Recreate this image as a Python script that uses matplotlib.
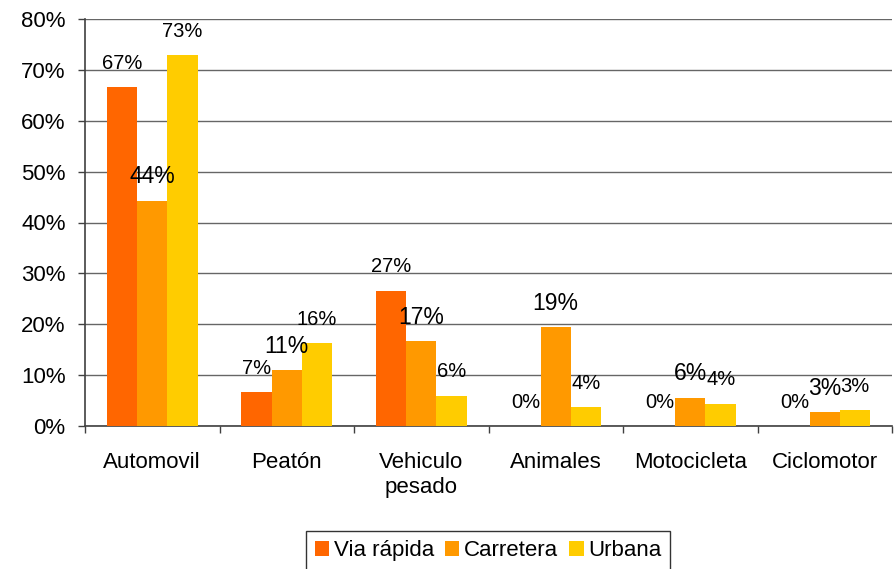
import numpy as np
import matplotlib
matplotlib.use("Agg")
import matplotlib.pyplot as plt
from matplotlib.ticker import FixedLocator, PercentFormatter

plt.rcParams["font.family"] = ["Liberation Sans", "DejaVu Sans"]

CATEGORIES = ["Automovil", "Peatón", "Vehiculo\npesado", "Animales", "Motocicleta", "Ciclomotor"]
SERIES = ["Via rápida", "Carretera", "Urbana"]
VIA_RAPIDA = [66.6, 6.6, 26.6, 0.0, 0.0, 0.0]
CARRETERA = [44.3, 11.0, 16.7, 19.4, 5.6, 2.7]
URBANA = [72.9, 16.3, 5.9, 3.7, 4.4, 3.1]
COLORS = ["#FF6600", "#FF9900", "#FFCC00"]
LABEL_SIZES = [14.5, 16.5, 14.5]   # Carretera labels are drawn larger

fig = plt.figure(figsize=(8.94, 5.69), dpi=100)
ax = fig.add_axes([85/894, 1 - 426/569, (892-85)/894, (426-19)/569])

x = np.arange(len(CATEGORIES))
w = 0.226
for i, (vals, col) in enumerate(zip([VIA_RAPIDA, CARRETERA, URBANA], COLORS)):
    pos = x + (i - 1) * w
    ax.bar(pos, vals, width=w, color=col, label=SERIES[i], zorder=3)
    for px, v in zip(pos, vals):
        ax.annotate(f"{v:.0f}%", (px, v), xytext=(0, 24), textcoords="offset pixels",
                    ha="center", va="center", fontsize=LABEL_SIZES[i], zorder=4)

ax.set_xlim(-0.5, len(CATEGORIES) - 0.5)
ax.set_ylim(0, 80)
ax.set_yticks(np.arange(0, 81, 10))
ax.yaxis.set_major_formatter(PercentFormatter(decimals=0))
ax.grid(axis="y", color="#666666", lw=1.0, zorder=1)

ax.set_xticks(x)
ax.set_xticklabels(CATEGORIES)
ax.xaxis.set_minor_locator(FixedLocator(np.arange(-0.5, len(CATEGORIES), 1.0)))
ax.tick_params(axis="x", which="major", length=0, pad=19, labelsize=16)
ax.tick_params(axis="x", which="minor", length=5, width=1, color="#404040")
ax.tick_params(axis="y", length=5, width=1, color="#404040", pad=9, labelsize=16)

for s in ["top", "right"]:
    ax.spines[s].set_visible(False)
for s in ["left", "bottom"]:
    ax.spines[s].set_color("#404040")
    ax.spines[s].set_linewidth(1.2)

leg = fig.legend(loc="upper center", bbox_to_anchor=(488/894, 1 - 531/569), ncol=3,
                 fontsize=16, frameon=True, fancybox=False, edgecolor="black",
                 handlelength=0.65, handleheight=0.65, handletextpad=0.2,
                 columnspacing=0.5, borderpad=0.4, borderaxespad=0)
leg.get_frame().set_linewidth(1.0)

fig.savefig("out.png", dpi=100)
